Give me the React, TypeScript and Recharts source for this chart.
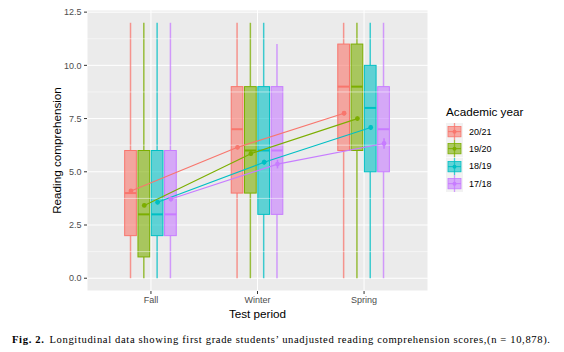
import React from 'react';
import {
  ComposedChart,
  Bar,
  Scatter,
  XAxis,
  YAxis,
  CartesianGrid,
  ReferenceLine,
  Legend,
  ErrorBar,
} from 'recharts';

// ---- data ----
const periods = ['Fall', 'Winter', 'Spring'];
const years = ['20/21', '19/20', '18/19', '17/18'];
const colors = ['#F8766D', '#7CAE00', '#00BFC4', '#C77CFF'];
const yTicks = [0, 2.5, 5, 7.5, 10, 12.5];
const yMinorTicks = [1.25, 3.75, 6.25, 8.75, 11.25];

// rows follow `years`, columns follow `periods`
const lowerWhisker = [
  [0, 0, 0],
  [0, 0, 0],
  [0, 0, 0],
  [0, 0, 0],
];
const lowerHinge = [
  [2, 4, 6],
  [1, 4, 6],
  [2, 3, 5],
  [2, 3, 5],
];
const medians = [
  [4, 7, 9],
  [3, 6, 9],
  [3, 6, 8],
  [3, 6, 7],
];
const upperHinge = [
  [6, 9, 11],
  [6, 9, 11],
  [6, 9, 10],
  [6, 9, 9],
];
const upperWhisker = [
  [12, 12, 12],
  [12, 12, 12],
  [12, 12, 12],
  [12, 11, 12],
];
const means = [
  [4.1, 6.15, 7.75],
  [3.42, 5.85, 7.5],
  [3.57, 5.45, 7.08],
  [3.72, 5.36, 6.33],
];
const meanSE = [
  [0.08, 0.1, 0.1],
  [0.08, 0.1, 0.1],
  [0.1, 0.12, 0.12],
  [0.12, 0.2, 0.25],
];

// ---- derived tables ----
const rows = periods.map((p, i) => ({ period: p, idx: i }));
const dodge = years.map((_, g) => (g - (years.length - 1) / 2) * 0.125);
const meanSeries = years.map((_, g) =>
  periods.map((_, i) => ({ x: i + 1 + dodge[g], y: means[g][i], se: meanSE[g][i] }))
);

const FONT = '"Liberation Sans", Arial, sans-serif';

const makeBoxShape = (g: number) => (props: any) => {
  const { x, y, width, height, payload } = props;
  const i = payload.idx;
  const lo = lowerHinge[g][i];
  const hi = upperHinge[g][i];
  const top = Math.min(y, y + height);
  const h = Math.abs(height);
  const k = h / (hi - lo);
  const py = (v: number) => top + (hi - v) * k;
  const cx = x + width / 2;
  const c = colors[g];
  return (
    <g>
      <line x1={cx} x2={cx} y1={py(upperWhisker[g][i])} y2={py(hi)} stroke={c} strokeWidth={1.5} strokeOpacity={0.75} />
      <line x1={cx} x2={cx} y1={py(lo)} y2={py(lowerWhisker[g][i])} stroke={c} strokeWidth={1.5} strokeOpacity={0.75} />
      <rect x={x} y={top} width={width} height={h} fill={c} fillOpacity={0.6} stroke={c} strokeWidth={1} />
      <line x1={x} x2={x + width} y1={py(medians[g][i])} y2={py(medians[g][i])} stroke={c} strokeWidth={2} />
    </g>
  );
};

const makePointShape = (g: number) => (props: any) => (
  <circle cx={props.cx} cy={props.cy} r={2.4} fill={colors[g]} />
);

const LegendGlyph = ({ color }: { color: string }) => (
  <svg width={17} height={17.3} style={{ display: 'block' }}>
    <rect x={0} y={0} width={17} height={17.3} fill="#F2F2F2" />
    <line x1={8.5} x2={8.5} y1={0} y2={17.3} stroke={color} strokeWidth={1.3} strokeOpacity={0.75} />
    <rect x={2} y={3.5} width={13} height={10.3} fill={color} fillOpacity={0.6} stroke={color} strokeWidth={0.8} />
    <line x1={2} x2={15} y1={8.65} y2={8.65} stroke={color} strokeWidth={1} />
    <circle cx={8.5} cy={8.65} r={2} fill={color} />
  </svg>
);

const renderLegend = () => (
  <div
    style={{
      width: 118,
      paddingLeft: 18,
      paddingTop: 95,
      boxSizing: 'border-box',
      fontFamily: FONT,
    }}
  >
    <div style={{ fontSize: 11.7, lineHeight: '14px', color: '#000', marginBottom: 4, whiteSpace: 'nowrap' }}>
      Academic year
    </div>
    {years.map((y, g) => (
      <div key={y} style={{ display: 'flex', alignItems: 'center', height: 17.3 }}>
        <LegendGlyph color={colors[g]} />
        <span style={{ marginLeft: 6, fontSize: 9, color: '#000' }}>{y}</span>
      </div>
    ))}
  </div>
);

export default function App() {
  return (
    <div style={{ position: 'absolute', left: 0, top: 0, width: 564, height: 352, background: '#fff' }}>
      <ComposedChart
        width={564}
        height={325}
        data={rows}
        margin={{ top: 10, right: 18, bottom: 0, left: 26 }}
        barSize={11.7}
        barGap={1.6}
      >
        <CartesianGrid fill="#EBEBEB" stroke="#FFFFFF" strokeWidth={1} />
        {yMinorTicks.map((v) => (
          <ReferenceLine key={v} y={v} stroke="#FFFFFF" strokeWidth={0.5} />
        ))}
        <XAxis
          dataKey="period"
          type="category"
          padding={{ left: 10.67, right: 10.67 }}
          height={34}
          axisLine={false}
          tickLine={{ stroke: '#333333' }}
          tickSize={3}
          tickMargin={3}
          tick={{ fill: '#4D4D4D', fontSize: 9, fontFamily: FONT }}
          label={{
            value: 'Test period',
            position: 'insideBottom',
            offset: 7,
            style: { fill: '#000', fontSize: 11.7, fontFamily: FONT },
          }}
        />
        <XAxis xAxisId="num" type="number" dataKey="x" domain={[0.4, 3.6]} hide />
        <YAxis
          type="number"
          domain={[-0.6, 12.6]}
          ticks={yTicks}
          tickFormatter={(v: number) => v.toFixed(1)}
          width={61}
          axisLine={false}
          tickLine={{ stroke: '#333333' }}
          tickSize={3}
          tickMargin={2.5}
          tick={{ fill: '#4D4D4D', fontSize: 9, fontFamily: FONT }}
          label={{
            value: 'Reading comprehension',
            angle: -90,
            position: 'center',
            style: { fill: '#000', fontSize: 11.7, fontFamily: FONT, textAnchor: 'middle' },
          }}
        />
        <Legend layout="vertical" align="right" verticalAlign="top" content={renderLegend} />
        {years.map((y, g) => (
          <Bar
            key={'box' + y}
            name={y}
            dataKey={(r: any) => [lowerHinge[g][r.idx], upperHinge[g][r.idx]]}
            shape={makeBoxShape(g)}
            isAnimationActive={false}
            legendType="none"
          />
        ))}
        {years.map((y, g) => (
          <Scatter
            key={'mean' + y}
            name={y + ' mean'}
            xAxisId="num"
            data={meanSeries[g]}
            dataKey="y"
            line={{ stroke: colors[g], strokeWidth: 1.2 }}
            lineType="joint"
            shape={makePointShape(g)}
            isAnimationActive={false}
            legendType="none"
          >
            <ErrorBar dataKey="se" direction="y" width={0} stroke={colors[g]} strokeWidth={1.5} />
          </Scatter>
        ))}
      </ComposedChart>
      <svg width={564} height={32} style={{ position: 'absolute', left: 0, top: 320 }}>
        <text
          x={12}
          y={23}
          fontFamily='"Liberation Serif", serif'
          fontSize={10.6}
          fill="#000"
          textLength={538}
          lengthAdjust="spacing"
        >
          <tspan fontWeight="bold">Fig. 2.</tspan>
          <tspan dx={5}>Longitudinal data showing first grade students’ unadjusted reading comprehension scores,(n = 10,878).</tspan>
        </text>
      </svg>
    </div>
  );
}
